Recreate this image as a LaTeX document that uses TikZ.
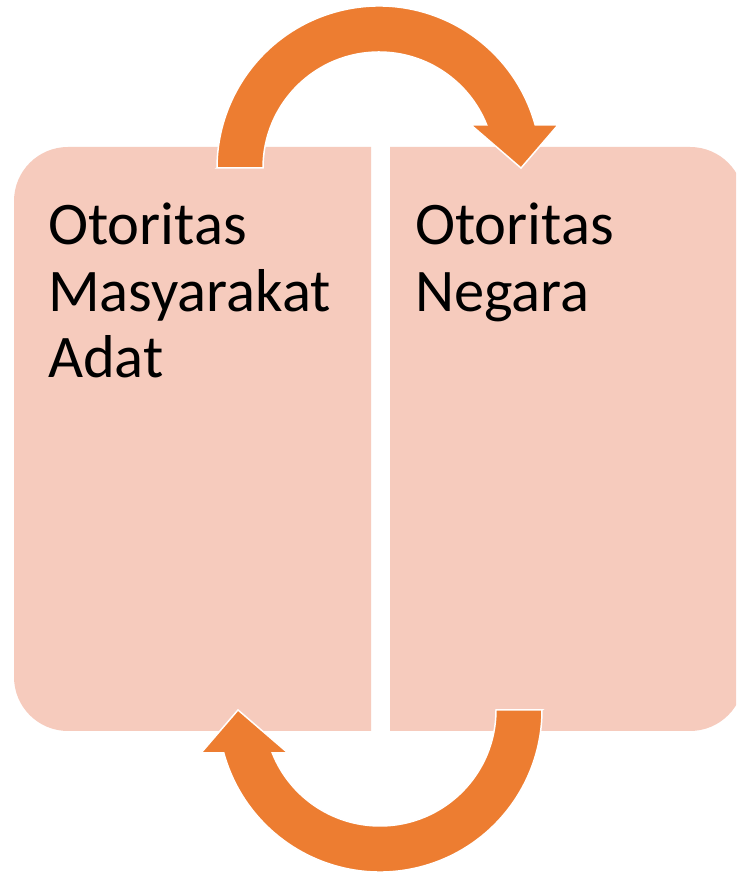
\documentclass[tikz,border=0pt]{standalone}
\usepackage{fontspec}
\setmainfont{Carlito}
\definecolor{arroworange}{HTML}{ED7D31}
\definecolor{boxfill}{HTML}{F6CBBD}
\tikzset{
  panel/.style={fill=boxfill, draw=none},
  label/.style={anchor=base west, inner sep=0pt, font=\fontsize{60.5}{67}\selectfont, text=black},
  arrowbody/.style={fill=arroworange, draw=white, line width=1.5pt, line join=miter},
  pics/circarrow/.style={code={
    \path[arrowbody] (-162,0) -- (-116,0)
      arc[start angle=180, end angle=21.76, radius=116]
      -- (92,43) -- (142,0) -- (179,43) -- (156.2,43)
      arc[start angle=15.39, end angle=180, radius=162] -- cycle;
  }}
}
\begin{document}
\begin{tikzpicture}[x=1pt, y=1pt]
  \clip (0,0) rectangle (736,872);
  \fill[white] (0,0) rectangle (736,872);
  % left panel
  \path[panel] (371,725) -- (68,725) arc[start angle=90, end angle=180, radius=54]
    -- (14,195) arc[start angle=180, end angle=270, radius=54] -- (371,141) -- cycle;
  % right panel
  \path[panel] (390,725) -- (690,725) arc[start angle=90, end angle=0, radius=54]
    -- (744,195) arc[start angle=0, end angle=-90, radius=54] -- (390,141) -- cycle;
  % texts
  \node[label] (l1) at (48,627) {Otoritas};
  \node[label] (l2) at (48,560) {Masyarakat};
  \node[label] (l3) at (48,494) {Adat};
  \node[label] (r1) at (415,627) {Otoritas};
  \node[label] (r2) at (415,560) {Negara};
  % circular arrows
  \pic (toparrow) at (379,704) {circarrow};
  \pic[rotate=180] (botarrow) at (380,162) {circarrow};
\end{tikzpicture}
\end{document}
